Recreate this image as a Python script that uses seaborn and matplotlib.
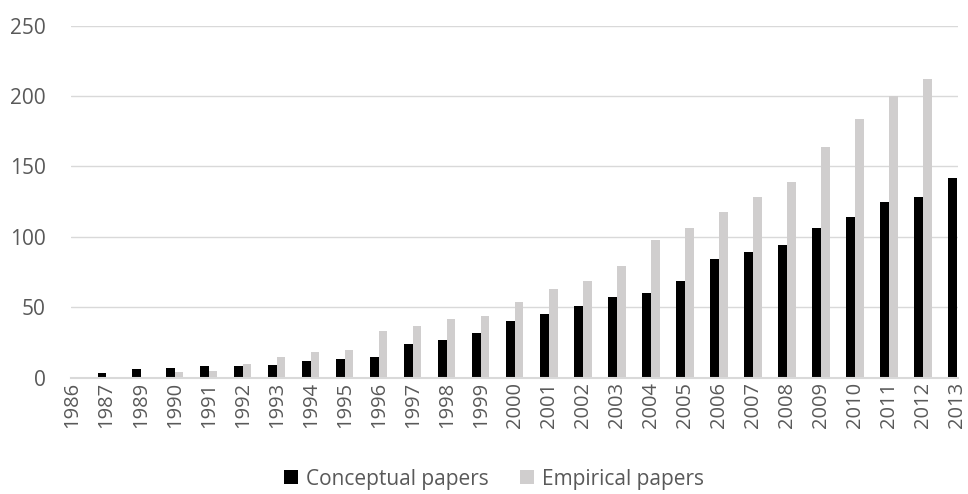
import pandas as pd
import matplotlib
matplotlib.use("Agg")
import matplotlib.pyplot as plt
import seaborn as sns

### Values
years = ['1986', '1987', '1989', '1990', '1991', '1992', '1993', '1994', '1995',
         '1996', '1997', '1998', '1999', '2000', '2001', '2002', '2003', '2004',
         '2005', '2006', '2007', '2008', '2009', '2010', '2011', '2012', '2013']
conceptual = [0, 3, 6, 7, 8, 8, 9, 12, 13, 15, 24, 27, 32, 40, 45, 51, 57, 60,
              69, 84, 89, 94, 106, 114, 125, 128, 142]
empirical = [0, 0, 0, 4, 5, 10, 15, 18, 20, 33, 37, 42, 44, 54, 63, 69, 79, 98,
             106, 118, 128, 139, 164, 184, 200, 212, 0]

SERIES = ['Conceptual papers', 'Empirical papers']
COLORS = ['#000000', '#d0cece']
TEXT_GREY = '#595959'

df = pd.concat([
    pd.DataFrame({'Year': years, 'Papers': conceptual, 'Type': SERIES[0]}),
    pd.DataFrame({'Year': years, 'Papers': empirical, 'Type': SERIES[1]}),
])

sns.set_style('white')
plt.rcParams['font.family'] = ['Open Sans', 'DejaVu Sans']

fig = plt.figure(figsize=(9.68, 4.94), dpi=100)
ax = fig.add_axes([0.0733, 0.2354, 0.9164, 0.7126])

sns.barplot(data=df, x='Year', y='Papers', hue='Type', order=years,
            hue_order=SERIES, palette=COLORS, width=0.52, gap=0.04,
            saturation=1, linewidth=0, ax=ax)

## axis look
ax.set_xlim(-0.05, 26.03)
ax.set_ylim(0, 250)
ax.set_yticks(range(0, 251, 50))
ax.yaxis.grid(True, color='#d9d9d9', linewidth=1)
ax.set_axisbelow(True)
for side in ['top', 'right', 'left']:
    ax.spines[side].set_visible(False)
ax.spines['bottom'].set_color('#d9d9d9')
ax.spines['bottom'].set_linewidth(1.5)
ax.tick_params(axis='both', length=0, colors=TEXT_GREY)
ax.tick_params(axis='y', labelsize=15, pad=18)
ax.tick_params(axis='x', labelsize=14.5, rotation=90, pad=3)
ax.set_xlabel('')
ax.set_ylabel('')

## legend under the chart
ax.legend(loc='upper center', bbox_to_anchor=(0.477, -0.205), ncol=2,
          frameon=False, fontsize=15, handlelength=0.65, handleheight=0.65,
          handletextpad=0.4, columnspacing=1.5, labelcolor=TEXT_GREY)

fig.savefig('out.png', dpi=100)
